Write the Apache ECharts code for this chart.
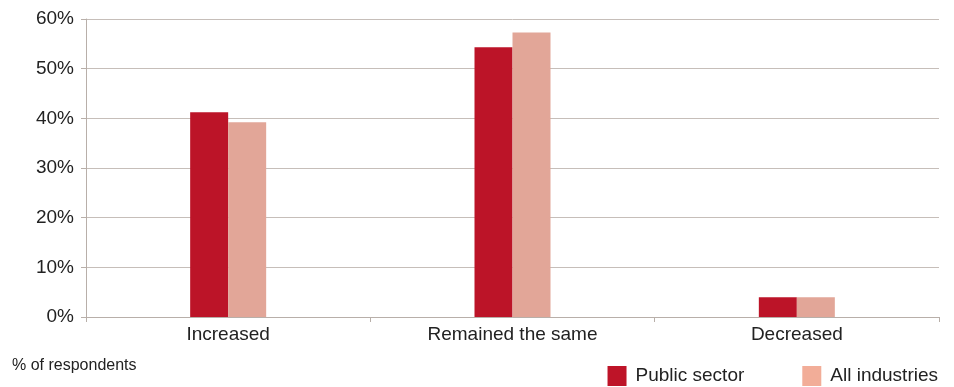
<!DOCTYPE html>
<html>
<head>
<meta charset="utf-8">
<script src="https://cdn.jsdelivr.net/npm/echarts@6/dist/echarts.min.js"></script>
<style>html,body{margin:0;padding:0;background:#fff}#c{width:954px;height:387px}</style>
</head>
<body>
<div id="c"></div>
<script>
const categories = ["Increased", "Remained the same", "Decreased"];
const publicSector = [41.2, 54.3, 4.0];
const allIndustries = [39.2, 57.3, 4.0];
const yTicks = [0, 10, 20, 30, 40, 50, 60];

const chart = echarts.init(document.getElementById('c'));
const font = '"Liberation Sans", Arial, sans-serif';
chart.setOption({
  animation: false,
  textStyle: { fontFamily: font },
  grid: { left: 86, right: 15, top: 19, bottom: 70 },
  graphic: [{
    type: 'text', left: 12, top: 358,
    style: { text: '% of respondents', font: '16px ' + font, fill: '#222' }
  }],
  legend: {
    right: 16, top: 366, padding: 0,
    icon: 'rect',
    itemWidth: 19, itemHeight: 20, itemGap: 58,
    textStyle: { fontSize: 19, color: '#222', fontFamily: font, padding: [0, 0, 0, 4] },
    data: [
      { name: 'Public sector', itemStyle: { color: '#BE1428' } },
      { name: 'All industries', itemStyle: { color: '#F2AD98' } }
    ]
  },
  xAxis: {
    type: 'category', data: categories,
    axisLine: { lineStyle: { color: '#B8AFA9' } },
    axisTick: { show: true, length: 5, lineStyle: { color: '#B8AFA9' } },
    axisLabel: { fontSize: 19, color: '#222', margin: 8 }
  },
  yAxis: {
    type: 'value', min: yTicks[0], max: yTicks[yTicks.length - 1], interval: 10,
    axisLine: { show: true, lineStyle: { color: '#B8AFA9' } },
    axisTick: { show: true, length: 5, lineStyle: { color: '#B8AFA9' } },
    splitLine: { lineStyle: { color: '#C6BEB9' } },
    axisLabel: { fontSize: 19, color: '#222', margin: 12, formatter: v => v + '%' }
  },
  series: [
    { name: 'Public sector', type: 'bar', data: publicSector, barWidth: 38, barGap: '0%',
      itemStyle: { color: '#BC1428' } },
    { name: 'All industries', type: 'bar', data: allIndustries, barWidth: 38,
      itemStyle: { color: '#E2A698' } }
  ]
});
</script>
</body>
</html>
